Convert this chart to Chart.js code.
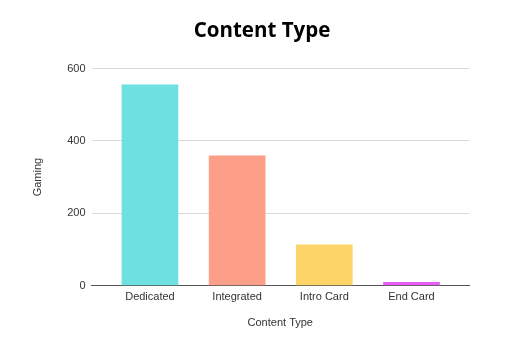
<!DOCTYPE html>
<html>
<head>
<meta charset="utf-8">
<script src="https://cdn.jsdelivr.net/npm/chart.js@4/dist/chart.umd.min.js"></script>
<style>
  html, body { margin: 0; padding: 0; background: #fff; }
  #wrap { width: 506px; height: 346px; }
</style>
</head>
<body>
<div id="wrap"><canvas id="chart"></canvas></div>
<script>
// data
const categories = ['Dedicated', 'Integrated', 'Intro Card', 'End Card'];
const gamingValues = [555, 359, 113, 9];
const barColors = ['#6ee0e0', '#fd9e89', '#fcd468', '#e55ef5'];
const yTicks = [0, 200, 400, 600];

// bars sit on a numeric x axis (index per category) so the gridlines can run wider than the bars
const points = gamingValues.map((v, i) => ({ x: i, y: v }));

// the title in the original is centred a bit right of the layout box
const shiftTitle = {
    id: 'shiftTitle',
    afterLayout(chart) {
        if (chart.titleBlock) chart.titleBlock.left += 24;
    }
};

const ctx = document.getElementById('chart').getContext('2d');
new Chart(ctx, {
    type: 'bar',
    data: {
        datasets: [{
            label: 'Gaming',
            data: points,
            backgroundColor: barColors,
            borderWidth: 0,
            barThickness: 56
        }]
    },
    plugins: [shiftTitle],
    options: {
        responsive: true, maintainAspectRatio: false,
        animation: false,
        layout: { padding: { left: 31, right: 37, top: 19, bottom: 16 } },
        plugins: {
            legend: { display: false },
            tooltip: { enabled: false },
            title: {
                display: true,
                text: 'Content Type',
                color: '#000',
                font: { family: 'Open Sans', size: 20.5, weight: 'bold' },
                padding: { top: 0, bottom: 25 }
            }
        },
        scales: {
            x: {
                type: 'linear',
                offset: false,
                min: -0.67, max: 3.66,
                afterBuildTicks: (axis) => { axis.ticks = categories.map((_, i) => ({ value: i })); },
                grid: { display: false, drawTicks: false },
                border: { color: '#555', width: 1 },
                ticks: {
                    color: '#333', font: { family: 'Liberation Sans', size: 11 }, padding: 5,
                    callback: (v) => categories[v]
                },
                title: {
                    display: true, text: 'Content Type', color: '#333',
                    font: { family: 'Liberation Sans', size: 11 }, padding: { top: 8, bottom: 0 }
                }
            },
            y: {
                min: 0, max: 600,
                afterBuildTicks: (axis) => { axis.ticks = yTicks.map(v => ({ value: v })); },
                grid: { color: '#d9d9d9', drawTicks: false },
                border: { display: false },
                ticks: { color: '#333', font: { family: 'Liberation Sans', size: 11 }, padding: 6 },
                title: {
                    display: true, text: 'Gaming', color: '#333',
                    font: { family: 'Liberation Sans', size: 11 }, padding: { top: 0, bottom: 17 }
                }
            }
        }
    }
});
</script>
</body>
</html>
